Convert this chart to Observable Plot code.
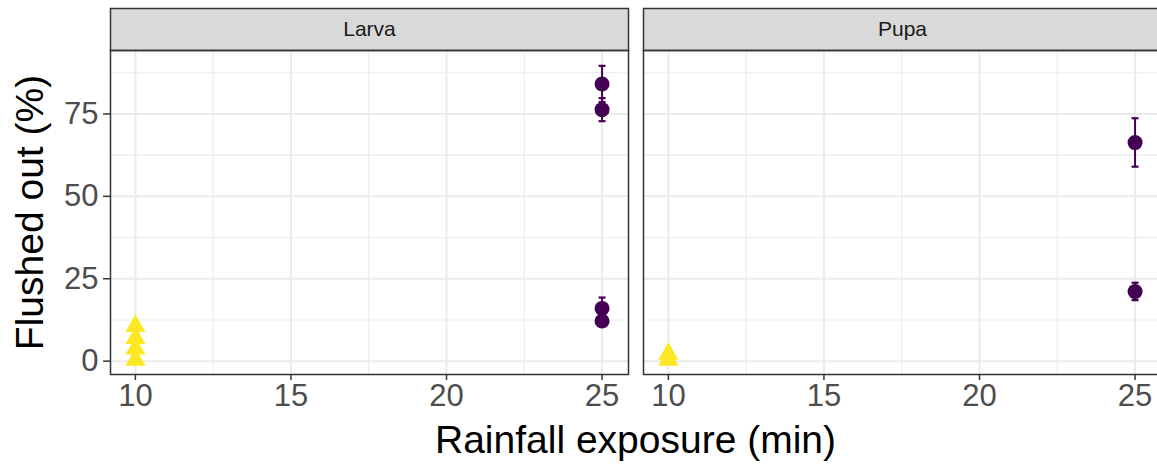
<!DOCTYPE html>
<html><head><meta charset="utf-8">
<script src="https://cdn.jsdelivr.net/npm/d3@7"></script>
<script src="https://cdn.jsdelivr.net/npm/@observablehq/plot@0.6"></script>
<style>
body{margin:0;background:#fff;overflow:hidden;font-family:"Liberation Sans",Arial,sans-serif;}
#wrap{position:relative;width:1157px;height:464px;overflow:hidden;background:#fff;}
#chart svg{max-width:none;}
#xtitle{position:absolute;left:110px;width:1051px;top:420px;height:44px;line-height:40px;text-align:center;font-size:39px;color:#000;white-space:nowrap;}
</style></head><body><div id="wrap"><div id="chart"></div><div id="xtitle">Rainfall exposure (min)</div></div>
<script>
// Data
const panels = ["Larva", "Pupa"];
const stage = ["Larva","Larva","Larva","Larva","Larva","Larva","Larva","Larva","Pupa","Pupa","Pupa","Pupa"];
const time  = [10, 10, 10, 10, 25, 25, 25, 25, 10, 10, 25, 25];
const mean  = [10.6, 7.0, 3.8, 0.4, 84.1, 76.3, 16.0, 12.2, 2.2, 0.4, 66.3, 21.1];
const lower = [null, null, null, null, 78.6, 72.8, 13.0, 11.3, null, null, 59.0, 18.5];
const upper = [null, null, null, null, 89.6, 79.8, 19.3, 13.1, null, null, 73.7, 23.8];
const xMajor = [10, 15, 20, 25];
const xMinor = [12.5, 17.5, 22.5];
const yMajor = [0, 25, 50, 75];
const yMinor = [12.5, 37.5, 62.5, 87.5];
const groups = ["10", "25"];
const groupColors = ["#FDE725", "#440154"];
const groupSymbols = ["triangle", "circle"];

const rows = stage.map((s, i) => ({stage: s, time: time[i], group: String(time[i]), mean: mean[i], lower: lower[i], upper: upper[i]}));
const bars = rows.filter(d => d.lower != null);

const W = 1157, H = 420, mT = 50, mB = 46, mL = 110, mR = -4;
const panelH = H - mT - mB;
const capSymbol = {draw(ctx, size) { ctx.moveTo(-3.5, 0); ctx.lineTo(3.5, 0); }};

const chart = Plot.plot({
  width: W, height: H, marginTop: mT, marginBottom: mB, marginLeft: mL, marginRight: mR,
  style: {fontFamily: '"Liberation Sans", Arial, sans-serif', background: "#fff"},
  fx: {domain: panels, axis: null, paddingInner: 15 / 533, paddingOuter: 0, label: null},
  x: {domain: [9.2, 25.85], axis: null},
  y: {domain: [-4.05, 94.25], axis: null},
  color: {type: "ordinal", domain: groups, range: groupColors},
  symbol: {domain: groups, range: groupSymbols},
  marks: [
    Plot.gridX(xMinor, {stroke: "#EBEBEB", strokeOpacity: 1, strokeWidth: 1.1}),
    Plot.gridY(yMinor, {stroke: "#EBEBEB", strokeOpacity: 1, strokeWidth: 1.1}),
    Plot.gridX(xMajor, {stroke: "#EBEBEB", strokeOpacity: 1, strokeWidth: 2}),
    Plot.gridY(yMajor, {stroke: "#EBEBEB", strokeOpacity: 1, strokeWidth: 2}),
    Plot.frame({fill: "#D9D9D9", stroke: "#333333", strokeWidth: 1.5, insetTop: -42, insetBottom: panelH}),
    Plot.text(panels, {fx: d => d, text: d => d, frameAnchor: "top", lineAnchor: "middle", dy: -21, fontSize: 21, fill: "#1A1A1A"}),
    Plot.axisX({ticks: xMajor, tickSize: 6, tickPadding: 3, fontSize: 31, fill: "#4D4D4D", stroke: "#333333", strokeWidth: 1.5, label: null}),
    Plot.axisY({ticks: yMajor, tickSize: 7, tickPadding: 5, fontSize: 31, fill: "#4D4D4D", stroke: "#333333", strokeWidth: 1.5, label: null}),
    Plot.axisY({ticks: [], label: "Flushed out (%)", labelAnchor: "center", labelOffset: 95, labelArrow: "none", fontSize: 39, fill: "#000"}),
    Plot.ruleX(bars, {fx: "stage", x: "time", y1: "lower", y2: "upper", stroke: "group", strokeWidth: 2}),
    Plot.dot(bars, {fx: "stage", x: "time", y: "lower", symbol: capSymbol, stroke: "group", fill: "none", strokeWidth: 2.2, r: 4}),
    Plot.dot(bars, {fx: "stage", x: "time", y: "upper", symbol: capSymbol, stroke: "group", fill: "none", strokeWidth: 2.2, r: 4}),
    Plot.dot(rows, {fx: "stage", x: "time", y: "mean", fill: "group", symbol: "group", r: 7.5, stroke: "none"}),
    Plot.frame({stroke: "#333333", strokeWidth: 1.5})
  ]
});
document.getElementById("chart").appendChild(chart);
</script></body></html>
